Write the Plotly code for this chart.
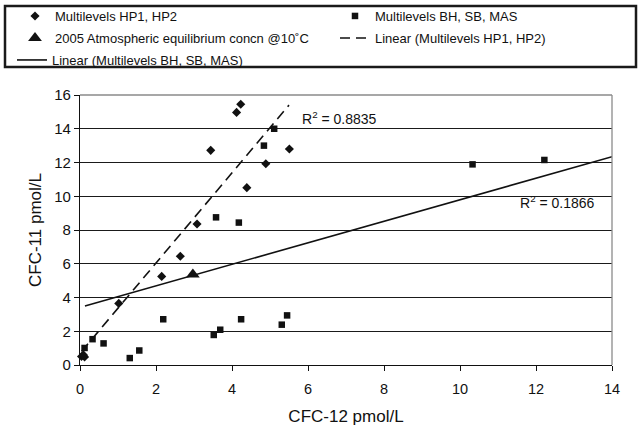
import plotly.graph_objects as go

# ---- data ----
hp_x = [0.04, 0.12, 0.09, 1.02, 2.15, 2.64, 3.08, 3.44, 4.12, 4.23, 4.39, 4.89, 5.51]
hp_y = [0.50, 0.48, 0.60, 3.65, 5.25, 6.44, 8.36, 12.72, 14.97, 15.45, 10.51, 11.93, 12.80]

bh_x = [0.12, 0.33, 0.62, 1.31, 1.56, 2.19, 3.52, 3.58, 3.69, 4.18, 4.24, 4.84, 5.11, 5.31, 5.45, 10.33, 12.22]
bh_y = [1.01, 1.53, 1.28, 0.41, 0.86, 2.71, 1.78, 8.75, 2.09, 8.44, 2.71, 13.00, 14.00, 2.39, 2.94, 11.89, 12.15]

atm_x = [2.97]
atm_y = [5.37]

trend_hp_x = [0.04, 5.50]
trend_hp_y = [0.80, 15.40]

trend_bh_x = [0.13, 14.0]
trend_bh_y = [3.50, 12.34]

x_ticks = [0, 2, 4, 6, 8, 10, 12, 14]
y_ticks = [0, 2, 4, 6, 8, 10, 12, 14, 16]

r2_hp = "R<sup>2</sup> = 0.8835"
r2_bh = "R<sup>2</sup> = 0.1866"

FONT = "Liberation Sans, Arial, sans-serif"
INK = "#111111"
GREY = "#8a8a8a"

fig = go.Figure()

fig.add_trace(go.Scatter(
    x=hp_x, y=hp_y, mode="markers", name="Multilevels HP1, HP2",
    marker=dict(symbol="diamond", size=7, color=INK),
    legend="legend", cliponaxis=False))
fig.add_trace(go.Scatter(
    x=bh_x, y=bh_y, mode="markers", name="Multilevels BH, SB, MAS",
    marker=dict(symbol="square", size=6.5, color=INK),
    legend="legend2", cliponaxis=False))
fig.add_trace(go.Scatter(
    x=atm_x, y=atm_y, mode="markers", name="2005 Atmospheric equilibrium concn @10˚C",
    marker=dict(symbol="triangle-up", size=12, color=INK),
    legend="legend3", cliponaxis=False))
fig.add_trace(go.Scatter(
    x=trend_hp_x, y=trend_hp_y, mode="lines", name="Linear (Multilevels HP1, HP2)",
    line=dict(color=INK, width=1.6, dash="10px,6px"),
    legend="legend4"))
fig.add_trace(go.Scatter(
    x=trend_bh_x, y=trend_bh_y, mode="lines", name="Linear (Multilevels BH, SB, MAS)",
    line=dict(color=INK, width=1.6),
    legend="legend5"))

L, R, T, B = 80, 26, 95, 64
W, H = 638, 429
pw, ph = W - L - R, H - T - B

def px(xp):
    return (xp - L) / pw

def py(yp):
    return (H - B - yp) / ph

def leg(xp, yp):
    return dict(x=px(xp), y=py(yp), xanchor="left", yanchor="middle",
                orientation="v", bgcolor="rgba(0,0,0,0)", borderwidth=0,
                font=dict(size=13, family=FONT, color=INK))

fig.update_layout(
    width=W, height=H,
    margin=dict(l=L, r=R, t=T, b=B, autoexpand=False),
    paper_bgcolor="white", plot_bgcolor="white",
    font=dict(family=FONT, color=INK),
    showlegend=True,
    legend=leg(15, 16),
    legend2=leg(335, 16),
    legend3=leg(15, 38),
    legend4=leg(335, 38),
    legend5=leg(12, 60),
    xaxis=dict(range=[0, 14], tickvals=x_ticks, ticks="outside", ticklen=5,
               tickcolor=INK, showline=True, linecolor=INK, linewidth=1.3,
               showgrid=False, zeroline=False, ticklabelstandoff=5,
               tickfont=dict(size=14.5, family=FONT, color=INK),
               title=dict(text="CFC-12 pmol/L", standoff=14,
                          font=dict(size=17, family=FONT, color=INK))),
    yaxis=dict(range=[0, 16], tickvals=y_ticks, ticks="outside", ticklen=5,
               tickcolor=INK, showline=True, linecolor=INK, linewidth=1.3,
               showgrid=True, gridcolor="#1a1a1a", gridwidth=1, zeroline=False,
               tickfont=dict(size=15, family=FONT, color=INK),
               title=dict(text="CFC-11 pmol/L", standoff=8,
                          font=dict(size=17, family=FONT, color=INK))),
    shapes=[
        dict(type="line", xref="paper", yref="paper", x0=0, x1=1, y0=1, y1=1,
             line=dict(color=GREY, width=1.3), layer="above"),
        dict(type="line", xref="paper", yref="paper", x0=1, x1=1, y0=0, y1=1,
             line=dict(color=GREY, width=1.3), layer="above"),
        # legend frame
        dict(type="rect", xref="paper", yref="paper",
             x0=px(5), x1=px(636), y0=py(67), y1=py(6),
             line=dict(color="#1a1a1a", width=2.5), layer="above"),
    ],
    annotations=[
        dict(x=5.79, y=14.62, xref="x", yref="y", text=r2_hp, showarrow=False,
             xanchor="left", yanchor="middle", font=dict(size=14, family=FONT, color=INK)),
        dict(x=11.53, y=9.65, xref="x", yref="y", text=r2_bh, showarrow=False,
             xanchor="left", yanchor="middle", font=dict(size=14, family=FONT, color=INK)),
    ],
)

fig.write_html("out.html", config={"displayModeBar": False},
               post_script="document.body.style.margin='0';")
